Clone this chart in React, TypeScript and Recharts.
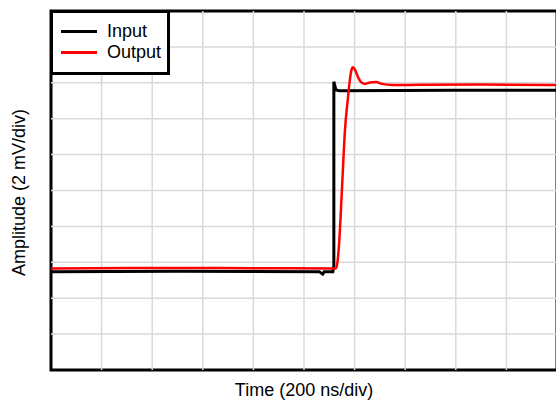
import {
  ComposedChart,
  XAxis,
  YAxis,
  Line,
  ReferenceArea,
  ReferenceLine,
} from "recharts";

// time in divisions (200 ns/div), amplitude in divisions (2 mV/div)
const inputTime = [0, 2.5, 5.3, 5.37, 5.4, 5.57, 5.59, 5.59, 5.63, 5.7, 8, 10];
const inputLevel = [2.74, 2.75, 2.74, 2.67, 2.74, 2.74, 2.9, 8.03, 7.8, 7.78, 7.79, 7.79];

const outputTime = [
  0, 2.5, 5.6, 5.632, 5.662, 5.698, 5.751, 5.81, 5.864, 5.909, 5.939, 5.968,
  6.008, 6.067, 6.126, 6.206, 6.304, 6.423, 6.542, 6.739, 8.5, 10,
];
const outputLevel = [
  2.83, 2.84, 2.83, 2.83, 3.01, 3.62, 5.07, 6.69, 7.52, 8.11, 8.36, 8.43,
  8.36, 8.16, 8.02, 7.97, 8.01, 8.02, 7.97, 7.94, 7.95, 7.94,
];

const divTicks = [0, 1, 2, 3, 4, 5, 6, 7, 8, 9, 10];
const gridDivs = [1, 2, 3, 4, 5, 6, 7, 8, 9];

const series = [
  { name: "Input", color: "#000000", width: 3, time: inputTime, level: inputLevel, curve: "linear" },
  { name: "Output", color: "#ff0000", width: 2.5, time: outputTime, level: outputLevel, curve: "monotone" },
];

const FONT = '"Liberation Sans", Arial, sans-serif';
const GRID = "#d9d9d9";

export default function App() {
  return (
    <div
      style={{
        position: "absolute",
        left: 0,
        top: 0,
        width: 556,
        height: 400,
        overflow: "hidden",
        background: "#fff",
        fontFamily: FONT,
      }}
    >
      <ComposedChart
        width={560}
        height={400}
        margin={{ top: 11, right: 3, bottom: 0, left: 0 }}
      >
        <XAxis
          type="number"
          dataKey="t"
          domain={[0, 10]}
          ticks={divTicks}
          tick={false}
          tickLine={false}
          axisLine={false}
          height={30}
          allowDataOverflow
          label={{
            content: ({ viewBox }: any) => (
              <text
                x={viewBox.x + viewBox.width / 2}
                y={viewBox.y + 26}
                textAnchor="middle"
                fontSize={18}
                fontFamily={FONT}
                fill="#000"
              >
                Time (200 ns/div)
              </text>
            ),
          }}
        />
        <YAxis
          type="number"
          domain={[0, 10]}
          ticks={divTicks}
          tick={false}
          tickLine={false}
          axisLine={false}
          width={51}
          allowDataOverflow
          label={{
            content: ({ viewBox }: any) => {
              const cx = 25;
              const cy = viewBox.y + viewBox.height / 2 + 2;
              return (
                <text
                  x={cx}
                  y={cy}
                  transform={`rotate(-90 ${cx} ${cy})`}
                  textAnchor="middle"
                  fontSize={18}
                  fontFamily={FONT}
                  fill="#000"
                >
                  Amplitude (2 mV/div)
                </text>
              );
            },
          }}
        />
        {gridDivs.map((d) => (
          <ReferenceLine key={"v" + d} x={d} stroke={GRID} strokeWidth={1.5} />
        ))}
        {gridDivs.map((d) => (
          <ReferenceLine key={"h" + d} y={d} stroke={GRID} strokeWidth={1.5} />
        ))}
        {series.map((s) => (
          <Line
            key={s.name}
            name={s.name}
            data={s.time.map((t, i) => ({ t, v: s.level[i] }))}
            dataKey="v"
            type={s.curve as any}
            stroke={s.color}
            strokeWidth={s.width}
            dot={false}
            activeDot={false}
            isAnimationActive={false}
          />
        ))}
        <ReferenceArea
          x1={0}
          x2={10}
          y1={0}
          y2={10}
          fill="none"
          fillOpacity={0}
          stroke="#000"
          strokeWidth={3}
          ifOverflow="visible"
        />
      </ComposedChart>
      <div
        style={{
          position: "absolute",
          left: 50,
          top: 10,
          width: 120,
          height: 65,
          border: "3px solid #000",
          background: "#fff",
          padding: "8px 0 0 8px",
          boxSizing: "border-box",
        }}
      >
        {series.map((s) => (
          <div
            key={s.name}
            style={{ display: "flex", alignItems: "center", height: 21, fontSize: 18 }}
          >
            <span
              style={{
                display: "inline-block",
                width: 36,
                height: 3,
                background: s.color,
                marginRight: 10,
              }}
            />
            <span>{s.name}</span>
          </div>
        ))}
      </div>
    </div>
  );
}
